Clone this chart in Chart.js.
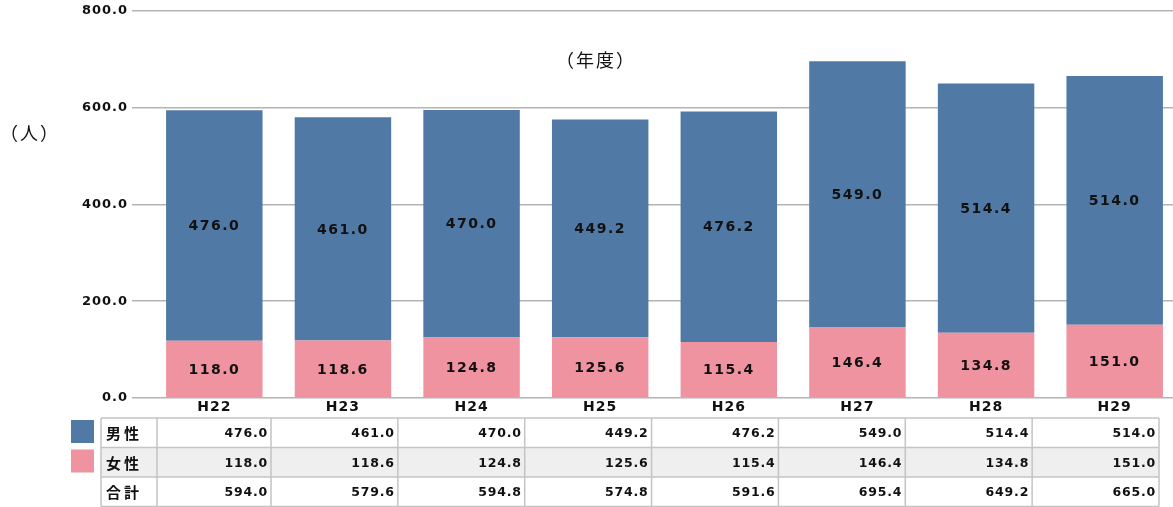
<!DOCTYPE html>
<html lang="ja">
<head>
<meta charset="utf-8">
<script src="https://cdn.jsdelivr.net/npm/chart.js@4"></script>
<style>
  html, body { margin: 0; padding: 0; background: #fff; overflow: hidden; }
  #wrap { width: 1180px; height: 507px; position: relative; }
</style>
</head>
<body>
<div id="wrap"><canvas id="chart"></canvas></div>
<script>
// 年度ごとの人数
const years = ['H22', 'H23', 'H24', 'H25', 'H26', 'H27', 'H28', 'H29'];
const male = [476.0, 461.0, 470.0, 449.2, 476.2, 549.0, 514.4, 514.0];
const female = [118.0, 118.6, 124.8, 125.6, 115.4, 146.4, 134.8, 151.0];
const total = [594.0, 579.6, 594.8, 574.8, 591.6, 695.4, 649.2, 665.0];
const yTicks = [0, 200, 400, 600, 800];

const BLUE = '#5079a5';
const PINK = '#f093a0';
const NUM_FAMILY = '"DejaVu Sans", sans-serif';
const JP_FAMILY = '"Noto Sans CJK JP", sans-serif';

// 文字を横に広げる（元の図は横長の書体）
const spacing = {
  id: 'spacing',
  beforeDraw(chart) { chart.ctx.letterSpacing = '1px'; }
};

// 棒の中の数値
const barLabels = {
  id: 'barLabels',
  afterDatasetsDraw(chart) {
    const ctx = chart.ctx;
    ctx.save();
    ctx.letterSpacing = '1.5px';
    ctx.font = 'bold 14px ' + NUM_FAMILY;
    ctx.fillStyle = '#111';
    ctx.textAlign = 'center';
    ctx.textBaseline = 'middle';
    chart.data.datasets.forEach((ds, di) => {
      chart.getDatasetMeta(di).data.forEach((bar, i) => {
        ctx.fillText(ds.data[i].toFixed(1), bar.x, (bar.y + bar.base) / 2 + 1);
      });
    });
    ctx.restore();
  }
};

// 下のデータ表と注記
const dataTable = {
  id: 'dataTable',
  afterDraw(chart) {
    const ctx = chart.ctx;
    const top = 418, rowH = 29.5;
    const left = 101, labelRight = 157, firstRight = 271, lastRight = 1159;
    const rows = [
      { name: '男性', vals: male, color: BLUE },
      { name: '女性', vals: female, color: PINK },
      { name: '合計', vals: total, color: null }
    ];
    const colRight = i => firstRight + (lastRight - firstRight) * i / (years.length - 1);

    ctx.save();
    rows.forEach((r, ri) => {
      const y = top + ri * rowH;
      if (ri === 1) {
        ctx.fillStyle = '#eeefee';
        ctx.fillRect(left, y, lastRight - left, rowH);
      }
      if (r.color) {
        ctx.fillStyle = r.color;
        ctx.fillRect(71, y + 2, 23, 23);
      }
      ctx.fillStyle = '#111';
      ctx.textBaseline = 'middle';
      ctx.font = 'bold 15px ' + JP_FAMILY;
      ctx.letterSpacing = '3px';
      ctx.textAlign = 'left';
      ctx.fillText(r.name, 106, y + rowH / 2 + 1);
      ctx.font = 'bold 12.5px ' + NUM_FAMILY;
      ctx.letterSpacing = '0.8px';
      ctx.textAlign = 'right';
      r.vals.forEach((v, i) => {
        ctx.fillText(v.toFixed(1), colRight(i) - 3, y + rowH / 2 + 1);
      });
    });

    // 罫線
    ctx.strokeStyle = '#c4c4c4';
    ctx.lineWidth = 1.5;
    ctx.beginPath();
    for (let ri = 0; ri <= rows.length; ri++) {
      const y = top + ri * rowH;
      ctx.moveTo(left, y);
      ctx.lineTo(lastRight, y);
    }
    const vx = [left, labelRight];
    years.forEach((_, i) => vx.push(colRight(i)));
    vx.forEach(x => {
      ctx.moveTo(x, top);
      ctx.lineTo(x, top + rows.length * rowH);
    });
    ctx.stroke();

    // 単位
    ctx.fillStyle = '#111';
    ctx.letterSpacing = '2px';
    ctx.font = '18px ' + JP_FAMILY;
    ctx.textAlign = 'left';
    ctx.textBaseline = 'middle';
    ctx.fillText('（人）', 0, 133);
    ctx.fillText('（年度）', 556, 60);
    ctx.restore();
  }
};

new Chart(document.getElementById('chart'), {
  type: 'bar',
  data: {
    labels: years,
    datasets: [
      { label: '女性', data: female, backgroundColor: PINK },
      { label: '男性', data: male, backgroundColor: BLUE }
    ]
  },
  options: {
    responsive: true,
    maintainAspectRatio: false,
    animation: false,
    events: [],
    layout: { padding: { top: 3, right: 1, bottom: 84, left: 0 } },
    categoryPercentage: 1,
    barPercentage: 0.75,
    plugins: {
      legend: { display: false },
      tooltip: { enabled: false }
    },
    scales: {
      x: {
        stacked: true,
        grid: { display: false, drawTicks: false, tickLength: 0 },
        border: { display: false },
        ticks: { color: '#111', font: { family: NUM_FAMILY, size: 14, weight: 'bold', lineHeight: 1.2 }, padding: 1 },
        afterFit: s => { s.height = 25; }
      },
      y: {
        stacked: true,
        min: 0,
        max: 800,
        afterBuildTicks: s => { s.ticks = yTicks.map(v => ({ value: v })); },
        grid: { color: '#b4b4b4', lineWidth: 1.5, tickLength: 18 },
        border: { display: false },
        ticks: {
          color: '#111',
          font: { family: NUM_FAMILY, size: 13, weight: 'bold', lineHeight: 1 },
          padding: 4,
          callback: v => v.toFixed(1)
        },
        afterFit: s => { s.width = 150; }
      }
    }
  },
  plugins: [spacing, barLabels, dataTable]
});
</script>
</body>
</html>
